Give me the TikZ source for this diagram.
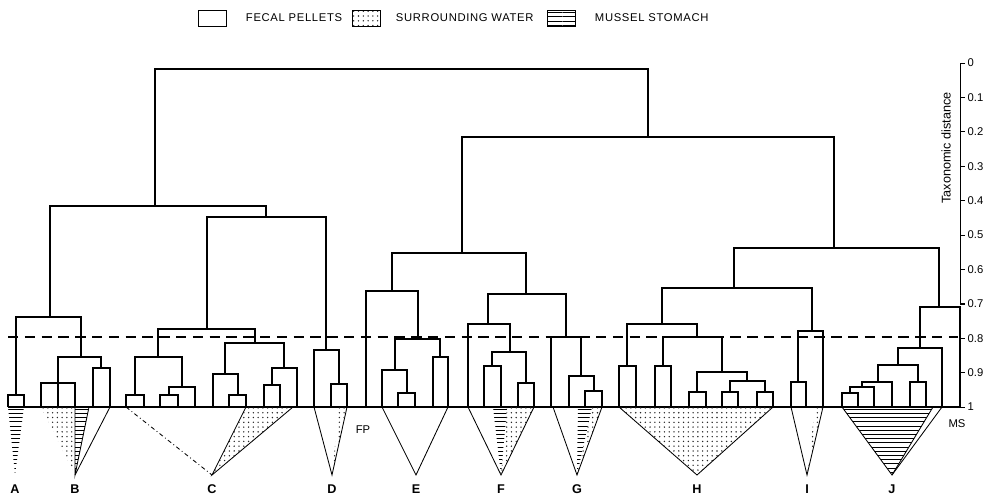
\documentclass[tikz,border=0pt]{standalone}
\usepackage{fontspec}
\setsansfont{Liberation Sans}
\usetikzlibrary{patterns}

% sparse dot fill for the water samples
\pgfdeclarepatternformonly{sparse dots}{\pgfqpoint{-1pt}{-1pt}}{\pgfqpoint{4pt}{4pt}}{\pgfqpoint{3.4pt}{3.4pt}}{%
    \pgfpathcircle{\pgfqpoint{0pt}{0pt}}{.55pt}\pgfusepath{fill}}

\begin{document}
\begin{tikzpicture}[x=0.25mm, y=-0.25mm, font=\sffamily,
    branch/.style={line width=1.2pt, line join=miter},
    cone/.style={line width=0.6pt},
    water/.style={pattern=sparse dots, pattern color=black!85},
    stomach/.style={pattern=horizontal lines},
    legbox/.style={draw, line width=0.7pt, minimum width=7mm, minimum height=4mm, inner sep=0pt},
    legtext/.style={font=\sffamily\footnotesize\addfontfeatures{LetterSpace=6}, anchor=west},
    grouplabel/.style={font=\sffamily\bfseries\small},
    ticklabel/.style={font=\sffamily\footnotesize, anchor=west, inner sep=1pt}]

    \useasboundingbox (0,0) rectangle (989,494);

    % 1. Legend along the top
    \node[legbox] (keyFP) at (212,18) {};
    \node[legtext] (txtFP) at (241,18) {FECAL PELLETS};
    \node[legbox, water] (keySW) at (366,18) {};
    \node[legtext] (txtSW) at (391,18) {SURROUNDING WATER};
    \node[legbox, stomach] (keyMS) at (561,18) {};
    \node[legtext] (txtMS) at (590,18) {MUSSEL STOMACH};

    % 2. Leaves on the base line (x positions)
    \foreach \n/\x in {
        a1/8, a2/24,
        b1/41, b2/58, b3/75, b4/93, b5/110,
        c1/126, c2/144, c3/160, c4/178, c5/195, c6/213, c7/229, c8/246,
        c9/264, c10/280, c11/297,
        d1/314, d2/331, d3/347,
        e0/366, e1/382, e2/398, e3/415, e4/433, e5/448,
        f1/468, f2/484, f3/501, f4/518, f5/534,
        g1/551, g2/569, g3/585, g4/602,
        h1/619, h2/636, h3/655, h4/671, h5/689, h6/706, h7/722, h8/738,
        h9/757, h10/773,
        i1/791, i2/806, i3/823,
        j1/842, j2/858, j3/874, j4/892, j5/910, j6/926, j7/942, j8/960%
    } {
        \coordinate (\n) at (\x,407);
    }

    % 3. Merge points of the dendrogram (x / level)
    \foreach \n/\x/\y in {
        nA/16/395, nB1/58/383, nB2/101/368, nB/81/357, nAB/50/317,
        nC1/135/395, nC2/169/395, nC3/182/387, nC4/158/357, nC5/238/395,
        nC6/225/374, nC7/272/385, nC8/284/368, nC9/255/343, nC/207/329,
        nD1/339/384, nD/326/350, nCD/266/217, nL/155/206,
        nE1/407/393, nE2/395/370, nE3/440/357, nE/418/339, nE0/392/291,
        nF1/492/366, nF2/526/383, nF3/510/352, nF/488/324,
        nG1/594/391, nG2/581/376, nG/566/337, nFG/526/294, nEG/462/253,
        nH1/627/366, nH2/663/366, nH3/697/392, nH4/730/392, nH5/765/392,
        nH6/747/381, nH7/722/372, nH8/697/337, nH/662/324,
        nI1/798/382, nI/812/331, nHI/734/288,
        nJ1/850/393, nJ2/862/387, nJ3/878/382, nJ4/918/382, nJ5/898/365,
        nJ6/920/348, nJ/939/307, nHJ/834/248,
        nR/648/137, root/400/69%
    } {
        \coordinate (\n) at (\x,\y);
    }

    % 4. Draw the branches: left child |- merge -| right child
    \foreach \l/\p/\r in {
        a1/nA/a2, b1/nB1/b3, b4/nB2/b5, b2/nB/nB2, nA/nAB/nB,
        c1/nC1/c2, c3/nC2/c4, nC2/nC3/c5, nC1/nC4/nC3, c7/nC5/c8,
        c6/nC6/nC5, c9/nC7/c10, nC7/nC8/c11, nC6/nC9/nC8, nC4/nC/nC9,
        d2/nD1/d3, d1/nD/nD1, nC/nCD/nD, nAB/nL/nCD,
        e2/nE1/e3, e1/nE2/nE1, e4/nE3/e5, nE2/nE/nE3, e0/nE0/nE,
        f2/nF1/f3, f4/nF2/f5, nF1/nF3/nF2, f1/nF/nF3,
        g3/nG1/g4, g2/nG2/nG1, g1/nG/nG2, nF/nFG/nG, nE0/nEG/nFG,
        h1/nH1/h2, h3/nH2/h4, h5/nH3/h6, h7/nH4/h8, h9/nH5/h10,
        nH4/nH6/nH5, nH3/nH7/nH6, nH2/nH8/nH7, nH1/nH/nH8,
        i1/nI1/i2, nI1/nI/i3, nH/nHI/nI,
        j1/nJ1/j2, nJ1/nJ2/j3, nJ2/nJ3/j4, j5/nJ4/j6, nJ3/nJ5/nJ4,
        nJ5/nJ6/j7, nJ6/nJ/j8, nHI/nHJ/nJ,
        nEG/nR/nHJ, nL/root/nR%
    } {
        \draw[branch] (\l) |- (\p) -| (\r);
    }

    % base line and the 0.8 cut
    \draw[line width=1.6pt] (a1) -- (j8);
    \draw[line width=0.9pt, dash pattern=on 2.6mm off 1.6mm] (8,337) -- (958,337);

    % 5. Cones under the groups, apex above each letter
    \foreach \g/\x in {A/15, B/75, C/212, D/332, E/416, F/501, G/577, H/697, I/807, J/892} {
        \coordinate (t\g) at (\x,475);
        \node[grouplabel] (lab\g) at (\x,489) {\g};
    }
    \fill[stomach] (a1) -- (a2) -- (tA) -- cycle;
    \fill[water] (b1) -- (b3) -- (tB) -- cycle;
    \filldraw[stomach, cone] (b3) -- (89,407) -- (tB) -- cycle;
    \draw[cone] (b5) -- (tB);
    \draw[cone, dash dot] (c1) -- (tC);
    \filldraw[water, cone] (c8) -- (293,407) -- (tC) -- cycle;
    \fill[water] (339,407) -- (d3) -- (tD) -- cycle;
    \draw[cone] (d1) -- (tD) -- (d3);
    \draw[cone] (e1) -- (tE) -- (e5);
    \fill[stomach] (493,407) -- (507,407) -- (tF) -- cycle;
    \fill[water] (507,407) -- (f5) -- (tF) -- cycle;
    \draw[cone] (f1) -- (tF) -- (f5);
    \fill[stomach] (578,407) -- (592,407) -- (tG) -- cycle;
    \fill[water] (592,407) -- (g4) -- (tG) -- cycle;
    \draw[cone] (553,407) -- (tG) -- (g4);
    \fill[water] (h1) -- (h10) -- (tH) -- cycle;
    \draw[cone] (h1) -- (tH) -- (h10);
    \fill[water] (815,407) -- (i3) -- (tI) -- cycle;
    \draw[cone] (i1) -- (tI) -- (i3);
    \fill[stomach] (j1) -- (933,407) -- (tJ) -- cycle;
    \draw[cone] (j1) -- (tJ) -- (j7);
    \draw[cone] (933,407) -- (tJ);

    \node[font=\sffamily\footnotesize] (fp) at (363,430) {FP};
    \node[font=\sffamily\footnotesize] (ms) at (957,424) {MS};

    % 6. Distance scale on the right
    \draw[line width=0.7pt] (965,63) -- (960,63) -- (960,304) -- (965,304);
    \foreach \d/\t in {0/0, 1/0.1, 2/0.2, 3/0.3, 4/0.4, 5/0.5, 6/0.6, 7/0.7, 8/0.8, 9/0.9, 10/1} {
        \draw[line width=0.6pt] (960,63+34.4*\d) -- ++(5,0);
        \node[ticklabel] at (966,63+34.4*\d) {\t};
    }
    \node[rotate=90, font=\sffamily\small] (axtitle) at (946,148) {Taxonomic distance};

\end{tikzpicture}
\end{document}
